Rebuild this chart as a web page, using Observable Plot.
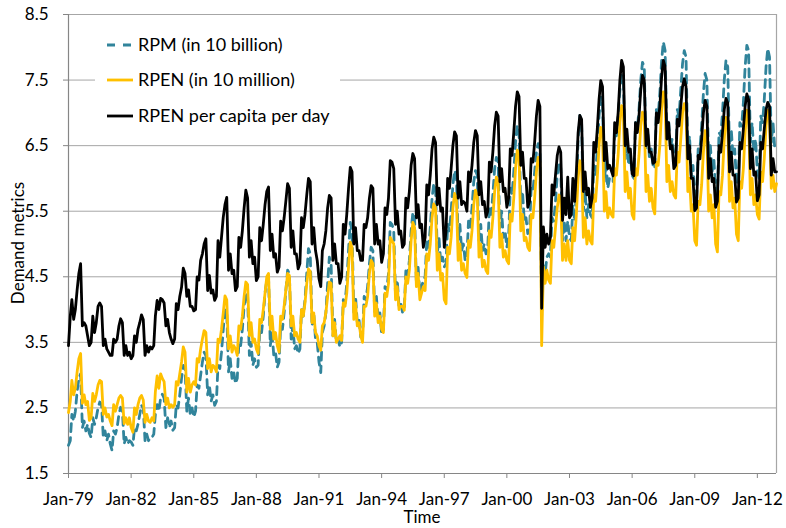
<!DOCTYPE html>
<html><head><meta charset="utf-8">
<script src="https://cdn.jsdelivr.net/npm/d3@7"></script>
<script src="https://cdn.jsdelivr.net/npm/@observablehq/plot@0.6"></script>
<style>
body{margin:0;background:#fff;}
#chart{width:786px;height:528px;}
svg{font-family:Lato,"Open Sans",sans-serif;}
</style></head><body><div id="chart"></div>
<script>
// Monthly series, Jan 1979 .. Dec 2012 (12 values per row = one year)
const startYear = 1979;
const rpm = [
1.93,2.00,2.40,2.30,2.45,2.75,2.95,3.02,2.20,2.30,2.15,2.25,
2.11,2.05,2.35,2.25,2.35,2.50,2.59,2.55,2.05,2.15,2.00,2.10,
1.95,1.85,2.15,2.10,2.20,2.40,2.51,2.45,1.95,2.05,1.95,2.00,
1.98,1.93,2.20,2.15,2.25,2.40,2.54,2.50,2.00,2.10,2.00,2.05,
2.05,2.10,2.40,2.55,2.45,2.65,2.71,2.65,2.20,2.35,2.20,2.30,
2.16,2.20,2.55,2.50,2.70,2.95,3.15,3.10,2.45,2.65,2.40,2.50,
2.36,2.45,2.85,2.80,3.00,3.20,3.35,3.30,2.70,2.85,2.60,2.70,
2.54,2.60,3.15,3.10,3.35,3.70,4.00,3.95,3.05,3.25,2.95,3.05,
2.87,2.95,3.50,3.45,3.70,4.05,4.26,4.20,3.30,3.50,3.15,3.25,
3.12,3.15,3.70,3.65,3.90,4.25,4.45,4.50,3.45,3.65,3.30,3.35,
3.12,3.20,3.75,3.70,3.95,4.30,4.60,4.55,3.55,3.75,3.40,3.45,
3.33,3.40,4.00,3.90,4.15,4.55,4.93,4.85,3.75,3.95,3.55,3.50,
3.20,3.04,3.65,3.75,3.95,4.40,4.80,4.70,3.60,3.85,3.50,3.55,
3.43,3.50,4.15,4.10,4.40,4.90,5.33,5.20,3.95,4.20,3.80,3.85,
3.58,3.60,4.20,4.15,4.35,4.70,4.95,4.90,3.95,4.20,3.85,3.95,
3.63,3.70,4.35,4.30,4.55,5.33,5.30,5.20,4.20,4.45,4.05,4.10,
3.96,4.00,4.60,4.50,4.75,5.20,5.48,5.40,4.40,4.65,4.25,4.35,
4.44,4.50,5.05,4.95,5.25,5.70,5.92,5.85,4.85,5.10,4.70,4.80,
4.65,4.70,5.30,5.20,5.50,5.90,6.12,6.05,5.05,5.30,4.90,5.00,
4.75,4.80,5.35,5.25,5.55,5.95,6.12,6.05,5.05,5.30,4.90,5.00,
4.85,4.95,5.55,5.45,5.75,6.15,6.32,6.25,5.25,5.50,5.10,5.20,
4.95,5.10,5.85,5.75,6.10,6.55,6.81,6.70,5.55,5.80,5.35,5.40,
5.16,5.20,5.85,5.80,6.10,6.40,6.53,6.45,3.90,4.67,4.55,4.80,
4.85,4.80,5.40,5.35,5.65,6.05,6.25,6.15,5.05,5.35,5.05,5.35,
5.10,5.05,5.60,5.35,5.80,6.60,6.96,6.85,5.50,5.80,5.40,5.60,
5.45,5.40,6.20,6.05,6.45,6.95,7.24,7.15,5.95,6.25,5.85,6.00,
6.00,5.95,6.75,6.65,6.95,7.35,7.57,7.50,6.30,6.60,6.20,6.35,
6.05,6.00,6.85,6.75,7.05,7.50,7.77,7.70,6.45,6.70,6.30,6.45,
6.20,6.15,7.05,6.95,7.30,7.80,8.08,7.95,6.65,6.90,6.45,6.60,
6.30,6.25,7.05,6.95,7.35,7.75,7.95,7.85,6.40,6.65,6.05,6.20,
5.70,5.65,6.45,6.45,6.80,7.30,7.60,7.50,6.20,6.50,6.10,6.30,
5.80,5.75,6.70,6.65,7.00,7.50,7.80,7.70,6.40,6.75,6.35,6.45,
5.95,5.90,6.85,6.80,7.15,7.70,8.03,7.95,6.55,6.85,6.40,6.60,
6.10,6.00,6.95,6.85,7.20,7.70,7.98,7.85,6.55,6.85,6.45,6.48
];
const rpen = [
2.43,2.60,2.92,2.70,2.80,3.05,3.25,3.33,2.57,2.70,2.55,2.60,
2.31,2.35,2.72,2.60,2.70,2.85,2.92,2.90,2.40,2.50,2.36,2.40,
2.30,2.23,2.55,2.45,2.55,2.65,2.69,2.65,2.26,2.35,2.25,2.35,
2.20,2.13,2.50,2.40,2.55,2.65,2.69,2.62,2.28,2.40,2.30,2.28,
2.35,2.30,2.75,2.99,2.80,3.02,2.95,2.90,2.55,2.65,2.50,2.55,
2.51,2.55,2.90,2.85,3.02,3.20,3.43,3.35,2.74,2.95,2.74,2.85,
2.90,2.85,3.25,3.20,3.40,3.55,3.68,3.65,3.10,3.25,3.05,3.15,
3.12,3.05,3.55,3.50,3.70,3.95,4.21,4.15,3.40,3.60,3.35,3.45,
3.40,3.30,3.75,3.70,3.90,4.20,4.42,4.38,3.60,3.80,3.50,3.55,
3.40,3.33,3.85,3.80,4.00,4.25,4.50,4.55,3.70,3.90,3.55,3.65,
3.45,3.35,3.90,3.85,4.05,4.30,4.55,4.52,3.75,3.90,3.60,3.65,
3.55,3.50,4.00,3.90,4.10,4.40,4.62,4.58,3.80,3.95,3.65,3.60,
3.45,3.38,3.75,3.80,3.95,4.20,4.42,4.40,3.60,3.80,3.50,3.55,
3.60,3.53,4.10,4.05,4.25,4.65,5.03,4.95,3.85,4.10,3.75,3.80,
3.60,3.50,4.05,4.05,4.20,4.55,4.75,4.70,3.90,4.10,3.80,3.90,
3.70,3.65,4.25,4.20,4.40,5.10,5.05,5.00,4.15,4.35,4.00,4.05,
4.05,3.99,4.50,4.40,4.60,5.05,5.33,5.25,4.35,4.55,4.15,4.25,
4.35,4.29,4.85,4.75,5.00,5.40,5.61,5.55,4.60,4.85,4.45,4.55,
4.15,4.09,4.95,4.85,5.10,5.55,5.77,5.70,4.75,5.00,4.60,4.70,
4.55,4.49,5.05,4.95,5.20,5.60,5.82,5.75,4.80,5.00,4.65,4.75,
4.60,4.55,5.20,5.10,5.40,5.80,6.02,5.95,4.95,5.15,4.80,4.90,
4.75,4.70,5.45,5.35,5.70,6.15,6.43,6.35,5.20,5.45,5.05,5.10,
4.95,4.90,5.45,5.40,5.70,6.10,6.32,6.25,3.45,4.65,4.40,4.60,
4.45,4.40,5.05,4.95,5.25,5.55,5.75,5.70,4.75,5.00,4.75,5.05,
4.75,4.70,5.25,5.05,5.45,6.00,6.27,6.20,5.10,5.40,5.00,5.20,
5.05,5.00,5.75,5.65,6.00,6.50,6.78,6.70,5.50,5.80,5.40,5.55,
5.45,5.41,6.15,6.05,6.35,6.85,7.11,7.00,5.80,6.10,5.70,5.85,
5.45,5.38,6.15,6.05,6.35,6.80,7.01,6.95,5.80,6.05,5.65,5.85,
5.55,5.46,6.25,6.20,6.50,7.05,7.32,7.20,5.95,6.20,5.80,5.95,
5.75,5.70,6.40,6.25,6.60,7.00,7.14,7.05,5.80,6.00,5.50,5.60,
5.05,4.98,5.65,5.60,5.90,6.40,6.73,6.65,5.50,5.75,5.40,5.60,
5.00,4.88,5.80,5.75,6.05,6.60,6.93,6.85,5.65,5.95,5.55,5.70,
5.15,5.05,5.95,5.85,6.15,6.70,7.04,6.95,5.75,6.00,5.60,5.75,
5.45,5.38,6.10,5.95,6.30,6.80,7.04,6.95,5.85,6.05,5.80,5.92
];
const rpenPerCapita = [
3.45,3.90,4.15,3.85,4.00,4.30,4.55,4.70,3.75,3.80,3.75,3.60,
3.45,3.50,3.90,3.65,3.80,4.05,4.10,4.05,3.45,3.55,3.40,3.35,
3.30,3.30,3.55,3.50,3.55,3.75,3.86,3.80,3.30,3.45,3.30,3.35,
3.25,3.30,3.60,3.50,3.70,3.80,3.92,3.85,3.30,3.45,3.35,3.43,
3.40,3.45,3.90,4.14,4.00,4.17,4.15,4.10,3.75,3.85,3.65,3.55,
3.48,3.55,4.09,4.00,4.20,4.34,4.63,4.55,4.20,4.30,4.05,4.05,
3.98,4.00,4.50,4.45,4.75,4.85,5.00,5.08,4.29,4.52,4.25,4.30,
4.14,4.20,5.05,4.80,5.10,5.41,5.60,5.71,4.60,4.85,4.55,4.60,
4.29,4.35,5.10,4.95,5.20,5.55,5.82,5.70,4.80,5.05,4.70,4.80,
4.44,4.50,5.25,5.05,5.30,5.60,5.80,5.87,4.90,5.15,4.80,4.85,
4.57,4.65,5.35,5.20,5.40,5.66,5.92,5.85,4.95,5.20,4.85,4.85,
4.62,4.70,5.40,5.25,5.45,5.75,6.00,5.95,5.00,5.25,4.90,4.75,
4.47,4.35,4.90,5.00,5.20,5.55,5.74,5.70,4.75,5.00,4.70,4.70,
4.40,4.50,5.30,5.15,5.45,5.85,6.17,6.10,5.00,5.25,4.90,4.90,
4.75,4.75,5.30,5.25,5.40,5.70,5.89,5.85,5.00,5.30,5.00,5.05,
4.72,4.85,5.55,5.45,5.70,6.27,6.25,6.15,5.30,5.50,5.15,5.20,
4.95,5.00,5.70,5.55,5.80,6.20,6.38,6.30,5.40,5.60,5.25,5.30,
4.95,5.10,5.90,5.75,6.05,6.45,6.63,6.55,5.60,5.85,5.50,5.55,
4.95,5.20,6.00,5.85,6.15,6.50,6.71,6.65,5.70,5.95,5.60,5.65,
5.62,5.50,6.10,5.95,6.20,6.55,6.73,6.65,5.75,5.95,5.60,5.65,
5.41,5.50,6.25,6.10,6.40,6.80,7.01,6.95,5.95,6.15,5.80,5.85,
5.56,5.70,6.45,6.35,6.70,7.10,7.32,7.25,6.20,6.40,6.00,6.00,
5.56,5.65,6.30,6.25,6.55,6.95,7.19,7.10,4.02,5.26,4.95,5.15,
5.00,5.10,5.90,5.75,6.05,6.35,6.48,6.40,5.36,5.70,5.45,6.02,
5.40,5.45,6.00,5.65,6.10,6.70,6.96,6.90,5.80,6.10,5.75,5.85,
5.56,5.70,6.55,6.40,6.75,7.20,7.49,7.40,6.27,6.55,6.15,6.20,
6.12,6.04,6.85,6.70,7.00,7.50,7.80,7.70,6.50,6.75,6.40,6.45,
6.07,6.04,6.85,6.70,6.95,7.35,7.57,7.50,6.50,6.75,6.40,6.40,
6.23,6.25,7.00,6.85,7.10,7.55,7.80,7.70,6.60,6.85,6.45,6.50,
6.15,6.20,6.90,6.80,7.10,7.40,7.52,7.40,6.30,6.50,6.00,6.00,
5.51,5.55,6.35,6.30,6.60,7.00,7.19,7.10,6.00,6.30,5.95,6.00,
5.56,5.65,6.50,6.40,6.70,7.05,7.22,7.15,6.10,6.40,6.05,6.05,
5.64,5.70,6.55,6.45,6.75,7.10,7.29,7.20,6.15,6.45,6.05,6.10,
5.66,5.75,6.55,6.45,6.75,7.05,7.16,7.10,6.05,6.30,6.10,6.10
];
const seriesNames = ["RPM (in 10 billion)", "RPEN (in 10 million)", "RPEN per capita per day"];
const seriesColors = ["#31849B", "#FFC000", "#000000"];
const yTicks = [1.5, 2.5, 3.5, 4.5, 5.5, 6.5, 7.5, 8.5];
const xTickYears = [1979, 1982, 1985, 1988, 1991, 1994, 1997, 2000, 2003, 2006, 2009, 2012];
const xLabel = "Time";
const yLabel = "Demand metrics";

const toRows = arr => arr.map((v, i) => ({date: new Date(Date.UTC(startYear, i, 1)), v}));
const rowsRpm = toRows(rpm), rowsRpen = toRows(rpen), rowsCap = toRows(rpenPerCapita);
const x0 = rowsRpm[0].date, x1 = rowsRpm[rowsRpm.length - 1].date;
const xTicks = xTickYears.map(y => new Date(Date.UTC(y, 0, 1)));
const fmtX = d => "Jan-" + String(d.getUTCFullYear()).slice(2);

const grid = "#a6a6a6", axisC = "#868686", FS = 17, LFS = 18;
const svg = Plot.plot({
  width: 786, height: 528,
  marginLeft: 68, marginRight: 10, marginTop: 14, marginBottom: 55,
  style: {fontFamily: "Lato, 'Open Sans', sans-serif", fontSize: FS + "px", color: "#000", background: "#fff"},
  x: {type: "utc", domain: [x0, x1]},
  y: {domain: [1.5, 8.5]},
  marks: [
    Plot.gridY({ticks: yTicks, stroke: grid, strokeOpacity: 1, strokeWidth: 1}),
    Plot.ruleX([x1], {stroke: grid, strokeWidth: 1.2}),
    Plot.axisY({ticks: yTicks, tickSize: 5, tickPadding: 15, tickFormat: d => d.toFixed(1), stroke: axisC, fontSize: FS, label: null}),
    Plot.axisX({ticks: xTicks, tickSize: 5, tickPadding: 14, tickFormat: fmtX, stroke: axisC, fontSize: FS, label: null}),
    Plot.ruleY([1.5], {stroke: axisC, strokeWidth: 1.2}),
    Plot.ruleX([x0], {stroke: axisC, strokeWidth: 1.2}),
    Plot.line(rowsRpm, {x: "date", y: "v", stroke: seriesColors[0], strokeWidth: 2.8, strokeDasharray: "8,6", strokeLinejoin: "round"}),
    Plot.line(rowsRpen, {x: "date", y: "v", stroke: seriesColors[1], strokeWidth: 2.8, strokeLinejoin: "round"}),
    Plot.line(rowsCap, {x: "date", y: "v", stroke: seriesColors[2], strokeWidth: 2.8, strokeLinejoin: "round"})
  ]
});
document.getElementById("chart").appendChild(svg);

const s = d3.select(svg);
// legend
const lg = s.append("g").attr("text-anchor", "start");
lg.append("rect").attr("x", 95).attr("y", 26).attr("width", 245).attr("height", 106).attr("fill", "#fff");
const rowsY = [45, 80, 116];
seriesNames.forEach((name, i) => {
  lg.append("line").attr("x1", 107).attr("x2", 133).attr("y1", rowsY[i]).attr("y2", rowsY[i])
    .attr("stroke", seriesColors[i]).attr("stroke-width", 2.8)
    .attr("stroke-dasharray", i === 0 ? "8,8" : null);
  lg.append("text").attr("x", 138).attr("y", rowsY[i]).attr("dy", "0.35em")
    .attr("text-anchor", "start")
    .attr("font-size", LFS).attr("fill", "#000").text(name);
});
// axis titles
s.append("text").attr("x", 422).attr("y", 523).attr("text-anchor", "middle")
  .attr("font-size", FS).attr("fill", "#000").text(xLabel);
s.append("text").attr("transform", "translate(24,243) rotate(-90)").attr("text-anchor", "middle")
  .attr("font-size", FS).attr("fill", "#000").text(yLabel);
</script></body></html>
